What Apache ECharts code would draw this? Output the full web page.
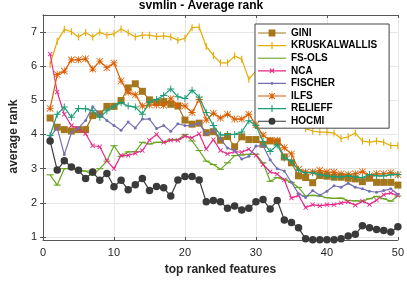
<!DOCTYPE html>
<html>
<head>
<meta charset="utf-8">
<script src="https://cdn.jsdelivr.net/npm/echarts@6/dist/echarts.min.js"></script>
<style>html,body{margin:0;padding:0;background:#fff}#c{width:407px;height:281px}</style>
</head>
<body>
<div id="c"></div>
<script>
const features = [1,2,3,4,5,6,7,8,9,10,11,12,13,14,15,16,17,18,19,20,21,22,23,24,25,26,27,28,29,30,31,32,33,34,35,36,37,38,39,40,41,42,43,44,45,46,47,48,49,50];
const seriesNames = ['GINI','KRUSKALWALLIS','FS-OLS','NCA','FISCHER','ILFS','RELIEFF','HOCMI'];
const gini = [4.48,4.21,4.14,4.10,4.14,4.14,4.55,4.60,4.82,4.82,4.99,5.36,5.48,5.26,5.01,4.94,4.96,4.88,4.83,4.42,4.30,4.33,4.05,4.08,3.83,3.94,3.64,3.93,3.85,3.85,3.71,3.81,3.78,3.34,3.17,2.79,2.74,2.59,2.80,2.78,2.75,2.75,2.72,2.70,2.62,2.72,2.60,2.60,2.60,2.52];
const kruskal = [6.05,6.72,7.07,7.00,6.85,6.98,6.85,6.99,6.90,6.94,7.08,6.97,6.85,6.90,6.90,6.86,6.88,6.85,6.75,6.81,7.12,7.14,6.57,6.31,6.09,6.09,6.29,6.20,5.61,5.86,5.70,5.45,5.15,4.85,4.55,4.30,4.17,4.10,4.07,4.07,4.04,3.88,3.93,4.04,3.81,3.77,3.81,3.77,3.67,3.67];
const fsols = [2.82,2.52,3.00,3.00,2.96,2.93,2.81,3.00,3.22,3.67,3.36,3.49,3.50,3.77,3.72,3.77,3.77,3.85,3.85,4.00,3.81,3.53,3.22,3.12,2.98,3.17,3.38,3.40,3.42,3.42,3.17,2.63,2.74,2.69,2.60,2.45,2.20,2.22,2.20,2.15,2.13,2.14,2.07,2.06,2.05,2.12,2.19,2.12,2.05,2.20];
const nca = [6.35,5.24,4.59,4.26,4.17,4.02,3.67,3.64,3.23,3.00,3.39,3.39,3.45,3.53,3.83,4.00,3.77,3.83,3.83,3.95,3.90,4.02,3.57,3.85,3.53,3.43,3.50,3.48,3.57,3.39,3.12,2.91,2.84,2.67,2.14,2.22,1.86,1.95,1.91,1.95,1.95,2.00,2.03,1.93,2.05,1.95,2.08,2.24,2.29,2.22];
const fischer = [3.93,4.19,3.41,4.05,4.19,4.41,4.81,4.58,4.41,4.26,4.12,4.36,4.19,4.45,4.45,4.17,4.26,4.09,4.31,4.26,4.26,4.33,4.00,4.12,3.88,3.60,3.53,3.28,3.36,3.66,3.67,3.26,3.00,2.93,2.60,2.27,2.16,2.36,2.22,2.34,2.50,2.46,2.57,2.46,2.41,2.34,2.31,2.36,2.41,2.25];
const ilfs = [4.76,5.75,5.85,6.18,6.18,6.21,5.91,6.14,5.95,6.09,5.56,5.23,5.16,4.83,4.86,4.86,4.85,5.04,4.86,4.83,4.64,5.02,4.42,4.62,4.48,4.59,4.45,4.45,4.59,4.28,3.98,3.83,3.83,3.61,3.43,2.98,2.90,2.90,2.95,2.90,2.90,2.85,2.83,2.85,2.91,2.79,2.85,2.85,2.88,2.82];
const relieff = [3.97,4.59,4.80,4.50,4.76,4.75,4.69,4.50,4.69,4.82,4.93,4.83,4.80,4.59,4.95,5.02,5.14,5.33,5.10,5.05,5.29,5.09,4.64,4.26,3.98,4.00,4.00,4.07,4.40,4.26,3.79,3.50,3.69,3.31,3.23,2.95,2.88,2.88,2.82,2.79,2.76,2.76,2.79,2.76,2.74,2.83,2.79,2.79,2.82,2.83];
const hocmi = [3.81,2.96,3.23,3.05,2.95,2.71,2.90,2.66,2.86,2.47,2.66,2.38,2.53,2.71,2.36,2.48,2.44,2.20,2.67,2.77,2.77,2.67,2.03,2.07,2.03,1.84,1.91,1.79,1.84,2.03,2.10,1.82,2.07,1.50,1.43,1.27,0.95,0.92,0.92,0.92,0.92,0.95,1.03,1.08,1.33,1.27,1.22,1.19,1.15,1.30];
const xTicks = [0,10,20,30,40,50];
const yTicks = [1,2,3,4,5,6,7];

const values = [gini, kruskal, fsols, nca, fischer, ilfs, relieff, hocmi];
const colors = ['#a6761d','#e6ab02','#66a61e','#e7298a','#7570b3','#d95f02','#1b9e77','#3a3a3a'];
const PLUS = 'path://M4.3,0H5.7V4.3H10V5.7H5.7V10H4.3V5.7H0V4.3H4.3Z';
const STAR = 'path://M4.4,0H5.6V4.4H10V5.6H5.6V10H4.4V5.6H0V4.4H4.4Z M0,0.8L0.8,0L10,9.2L9.2,10Z M9.2,0L10,0.8L0.8,10L0,9.2Z';
const VBAR = 'path://M0,0H1.6V10H0Z';
const HBAR = 'path://M0,0H10V1.6H0Z';
const markers = [
  {symbol:'rect', size:7, keep:false, rotate:0},
  {symbol:VBAR, size:7, keep:true, rotate:0},
  {symbol:HBAR, size:7, keep:true, rotate:0},
  {symbol:PLUS, size:6, keep:false, rotate:45},
  {symbol:'circle', size:3, keep:false, rotate:0},
  {symbol:STAR, size:7, keep:false, rotate:0},
  {symbol:PLUS, size:7, keep:false, rotate:0},
  {symbol:'circle', size:7.5, keep:false, rotate:0}
];
// legend icons: line sample with a small marker in the middle (28 x 10 box)
const LINE = 'M0,4.45H28V5.55H0Z';
const legendIcons = [
  'path://' + LINE + ' M10.6,1.6H17.4V8.4H10.6Z',
  'path://' + LINE + ' M13.4,1.6H14.6V8.4H13.4Z',
  'path://' + LINE,
  'path://' + LINE + ' M11.5,3.2L12.3,2.4L16.5,6.6L15.7,7.4Z M15.7,2.4L16.5,3.2L12.3,7.4L11.5,6.6Z',
  'path://' + LINE + ' M12.6,5A1.4,1.4 0 1,1 15.4,5A1.4,1.4 0 1,1 12.6,5Z',
  'path://' + LINE + ' M13.5,1.6H14.5V4.5H17.4V5.5H14.5V8.4H13.5V5.5H10.6V4.5H13.5Z M10.8,2.4L11.5,1.7L17.2,7.6L16.5,8.3Z M16.5,1.7L17.2,2.4L11.5,8.3L10.8,7.6Z',
  'path://' + LINE + ' M13.4,1.6H14.6V4.45H17.4V5.55H14.6V8.4H13.4V5.55H10.6V4.45H13.4Z',
  'path://' + LINE + ' M10.5,5A3.5,3.5 0 1,1 17.5,5A3.5,3.5 0 1,1 10.5,5Z'
];

const series = seriesNames.map((name, k) => ({
  name: name,
  type: 'line',
  data: features.map((f, i) => [f, values[k][i]]),
  symbol: markers[k].symbol,
  symbolSize: markers[k].size,
  symbolKeepAspect: markers[k].keep,
  symbolRotate: markers[k].rotate,
  showAllSymbol: true,
  color: colors[k],
  lineStyle: {width: 1.2, color: colors[k]},
  itemStyle: {color: colors[k], borderWidth: 0, opacity: 1},
  emphasis: {disabled: true},
  z: 2 + k,
  xAxisIndex: 0, yAxisIndex: 0
}));

const chart = echarts.init(document.getElementById('c'), null, {renderer: 'canvas'});
const axisLine = {show: true, lineStyle: {color: '#555', width: 1}};
const textC = '#262626';
chart.setOption({
  animation: false,
  backgroundColor: '#fff',
  title: {
    text: 'svmlin - Average rank', left: 201, top: 0, textAlign: 'center', padding: 0,
    textStyle: {fontFamily: 'Liberation Sans, Arial, sans-serif', fontSize: 12, fontWeight: 'bold', color: '#000'}
  },
  grid: {left: 30, right: 7, top: 15, bottom: 35, containLabel: false},
  legend: {
    orient: 'vertical', left: 255, top: 24,
    data: seriesNames.map((n, k) => ({name: n, icon: legendIcons[k]})),
    itemWidth: 28, itemHeight: 10, itemGap: 2.6,
    symbolKeepAspect: true,
    padding: [4, 12, 2, 3],
    backgroundColor: '#fff', borderColor: '#444', borderWidth: 1, borderRadius: 0,
    textStyle: {fontFamily: 'Liberation Sans, Arial, sans-serif', fontSize: 10, fontWeight: 'bold', color: '#000'},
    selectedMode: false
  },
  xAxis: [{
    type: 'value', min: 0, max: 50, interval: 10, position: 'bottom',
    name: 'top ranked features', nameLocation: 'middle', nameGap: 24,
    nameTextStyle: {fontFamily: 'Liberation Sans, Arial, sans-serif', fontSize: 12, fontWeight: 'bold', color: textC},
    axisLine: axisLine,
    axisTick: {show: true, inside: true, length: 3, lineStyle: {color: '#555'}},
    axisLabel: {fontFamily: 'Liberation Sans, Arial, sans-serif', fontSize: 11, color: textC, margin: 7,
      customValues: xTicks},
    splitLine: {show: true, lineStyle: {color: '#e6e6e6', width: 1}}
  }, {
    type: 'value', min: 0, max: 50, interval: 10, position: 'top',
    axisLine: axisLine,
    axisTick: {show: true, inside: true, length: 3, lineStyle: {color: '#555'}},
    axisLabel: {show: false}, splitLine: {show: false}
  }],
  yAxis: [{
    type: 'value', min: 0.915, max: 7.49, position: 'left',
    name: 'average rank', nameLocation: 'middle', nameGap: 19,
    nameTextStyle: {fontFamily: 'Liberation Sans, Arial, sans-serif', fontSize: 12, fontWeight: 'bold', color: textC,
      padding: [0, 18, 0, 0]},
    axisLine: axisLine,
    axisTick: {show: true, inside: true, length: 3, lineStyle: {color: '#555'}, customValues: yTicks},
    axisLabel: {fontFamily: 'Liberation Sans, Arial, sans-serif', fontSize: 11, color: textC, margin: 6,
      customValues: yTicks},
    splitLine: {show: true, lineStyle: {color: '#e6e6e6', width: 1}}
  }, {
    type: 'value', min: 0.915, max: 7.49, position: 'right',
    axisLine: axisLine,
    axisTick: {show: true, inside: true, length: 3, lineStyle: {color: '#555'}, customValues: yTicks},
    axisLabel: {show: false}, splitLine: {show: false}
  }],
  series: series
});
</script>
</body>
</html>
